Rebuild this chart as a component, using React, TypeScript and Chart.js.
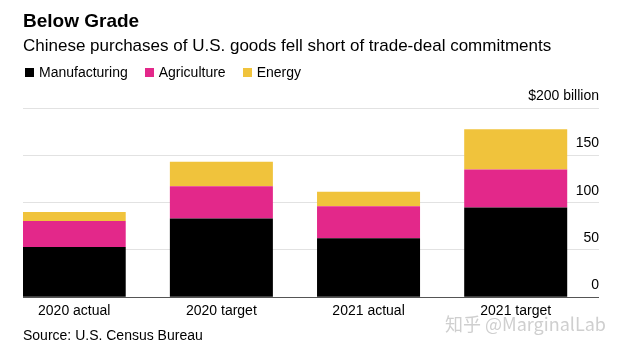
import { useEffect, useRef } from 'react';
import { Chart, registerables } from 'chart.js';

Chart.register(...registerables);

const categories = ['2020 actual', '2020 target', '2021 actual', '2021 target'];
const seriesNames = ['Manufacturing', 'Agriculture', 'Energy'];
const manufacturing = [53.1, 83.2, 62.3, 94.9];
const agriculture = [27.6, 34.3, 34.0, 40.3];
const energy = [9.5, 25.8, 15.2, 42.5];
const yTickValues = [0, 50, 100, 150, 200];
const yUnitLabel = '$200 billion';
const seriesColors = ['#000000', '#e3288a', '#f0c33c'];

const FONT = '"Liberation Sans", Arial, Helvetica, sans-serif';

export default function App() {
  const canvasRef = useRef<HTMLCanvasElement | null>(null);

  useEffect(() => {
    const canvas = canvasRef.current;
    if (!canvas) return;
    const seriesValues = [manufacturing, agriculture, energy];
    const chart = new Chart(canvas, {
      type: 'bar',
      data: {
        datasets: seriesNames.map((name, s) => ({
          label: name,
          data: seriesValues[s].map((v, i) => ({ x: i, y: v })),
          backgroundColor: seriesColors[s],
          borderWidth: 0,
          barPercentage: 0.7,
          categoryPercentage: 1,
        })),
      },
      options: {
        responsive: false,
        animation: false,
        devicePixelRatio: 1,
        layout: { padding: { left: 23, right: 25, top: 0, bottom: 28 } },
        plugins: {
          legend: { display: false },
          tooltip: { enabled: false },
          title: {
            display: true,
            text: 'Below Grade',
            align: 'start',
            color: '#000',
            font: { family: FONT, size: 19, weight: 'bold' },
            padding: { top: 10, bottom: 0 },
          },
          subtitle: {
            display: true,
            text: 'Chinese purchases of U.S. goods fell short of trade-deal commitments',
            align: 'start',
            color: '#000',
            font: { family: FONT, size: 17 },
            padding: { top: 3, bottom: 52 },
          },
        },
        scales: {
          x: {
            type: 'linear',
            stacked: true,
            offset: false,
            min: -0.348,
            max: categories.length - 1 + 0.566,
            grid: { display: false, drawTicks: false, offset: false },
            border: { display: false },
            afterBuildTicks: (scale: any) => {
              scale.ticks = categories.map((_, i) => ({ value: i }));
            },
            ticks: {
              autoSkip: false,
              maxRotation: 0,
              padding: 6,
              color: '#000',
              font: { family: FONT, size: 14 },
              callback: (v: any) => categories[Number(v)] ?? '',
            },
          },
          y: {
            position: 'right',
            stacked: true,
            min: 0,
            max: 200,
            afterBuildTicks: (scale: any) => {
              scale.ticks = yTickValues.map((v) => ({ value: v }));
            },
            grid: {
              drawTicks: false,
              color: (ctx: any) => (ctx.tick && ctx.tick.value === 0 ? '#555555' : '#e2e2e2'),
              lineWidth: 1,
            },
            border: { display: false },
            ticks: {
              mirror: true,
              padding: 0,
              labelOffset: -12,
              color: '#000',
              font: { family: FONT, size: 14 },
              callback: (v: any) => (Number(v) === 200 ? yUnitLabel : String(v)),
            },
          },
        },
      },
    });
    return () => chart.destroy();
  }, []);

  return (
    <div style={{ position: 'absolute', left: 0, top: 0, width: 624, height: 354, background: '#fff', fontFamily: FONT }}>
      <canvas ref={canvasRef} width={624} height={354} style={{ display: 'block' }} />
      <div style={{ position: 'absolute', left: 25, top: 64, height: 17, display: 'flex', alignItems: 'center', fontSize: 14, color: '#000' }}>
        {seriesNames.map((name, i) => (
          <div key={name} style={{ display: 'flex', alignItems: 'center', marginRight: 17 }}>
            <span style={{ display: 'inline-block', width: 9, height: 9, background: seriesColors[i], marginRight: 5 }} />
            <span style={{ lineHeight: '17px' }}>{name}</span>
          </div>
        ))}
      </div>
      <div style={{ position: 'absolute', left: 23, top: 327, fontSize: 14, lineHeight: '16px', color: '#000' }}>
        Source: U.S. Census Bureau
      </div>
      <div style={{ position: 'absolute', left: 445, top: 312, fontSize: 18, lineHeight: '22px', color: '#cfcfcf', fontFamily: '"Noto Sans CJK SC", ' + FONT }}>
        知乎 @MarginalLab
      </div>
    </div>
  );
}
